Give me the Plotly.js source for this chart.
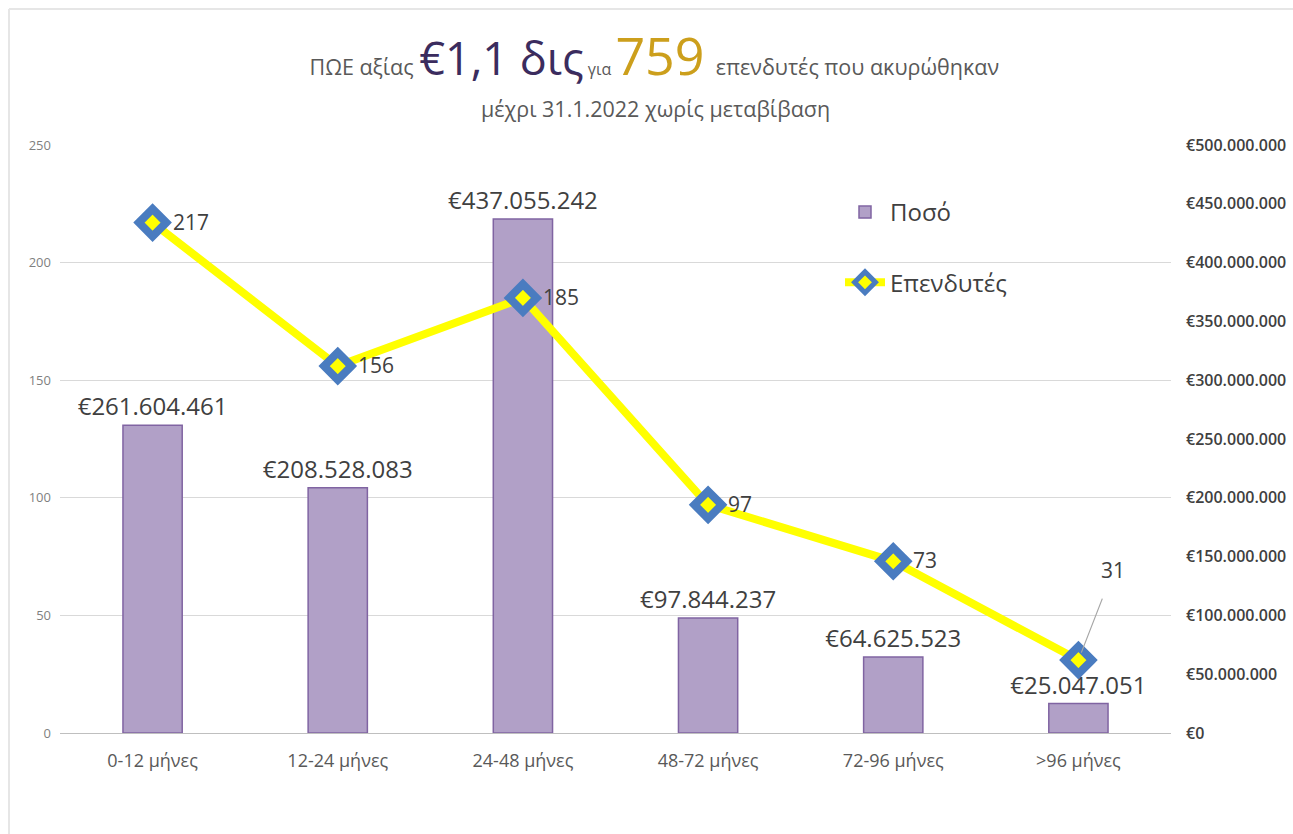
<!DOCTYPE html>
<html>
<head>
<meta charset="utf-8">
<script src="https://cdn.plot.ly/plotly-3.0.1.min.js"></script>
<style>
  html, body { margin: 0; padding: 0; background: #ffffff; }
  #chart { width: 1293px; height: 834px; }
</style>
</head>
<body>
<div id="chart"></div>
<script>
const categories = ["0-12 μήνες", "12-24 μήνες", "24-48 μήνες", "48-72 μήνες", "72-96 μήνες", ">96 μήνες"];
const amounts = [261604461, 208528083, 437055242, 97844237, 64625523, 25047051];
const investors = [217, 156, 185, 97, 73, 31];
const leftTicks = [0, 50, 100, 150, 200, 250];
const rightTicks = [0, 50000000, 100000000, 150000000, 200000000, 250000000, 300000000, 350000000, 400000000, 450000000, 500000000];
const seriesNames = ["Ποσό", "Επενδυτές"];

const FONT = "Open Sans, Noto Sans, sans-serif";

function euro(v) {
  return "€" + String(Math.round(v)).replace(/\B(?=(\d{3})+(?!\d))/g, ".");
}

const lastIdx = investors.length - 1;

// Bars on the primary (right-side) axis so that the line (overlay axis) sits on top
const barTrace = {
  type: "bar",
  name: seriesNames[0],
  x: categories,
  y: amounts,
  yaxis: "y",
  width: 0.32,
  marker: { color: "#b1a0c7", line: { color: "#8064a2", width: 1.5 } },
  text: amounts.map(euro),
  texttemplate: "%{text}",
  textposition: "outside",
  constraintext: "none",
  cliponaxis: false,
  textfont: { family: FONT, size: 24, color: "#404040" },
  legendgroup: "a",
  legendrank: 1,
  hoverinfo: "skip"
};

const lineTrace = {
  type: "scatter",
  mode: "lines+markers",
  name: seriesNames[1],
  x: categories,
  y: investors,
  yaxis: "y2",
  line: { color: "#ffff00", width: 8 },
  marker: { symbol: "diamond", size: 21, color: "#ffff00", line: { color: "#4a7cc0", width: 8 } },
  cliponaxis: false,
  legendgroup: "b",
  legendrank: 2,
  hoverinfo: "skip"
};

const pointLabels = investors.map((v, i) => {
  if (i === lastIdx) {
    return {
      text: String(v),
      x: categories[i], y: v,
      xref: "x", yref: "y2",
      showarrow: true,
      arrowhead: 0,
      arrowwidth: 1.2,
      arrowcolor: "#a6a6a6",
      ax: 35, ay: -90,
      standoff: 8,
      startstandoff: 14,
      font: { family: FONT, size: 21, color: "#404040" }
    };
  }
  return {
    text: String(v),
    x: categories[i], y: v,
    xref: "x", yref: "y2",
    xanchor: "left", yanchor: "middle",
    xshift: 18, yshift: 1,
    showarrow: false,
    font: { family: FONT, size: 21, color: "#404040" }
  };
});

const layout = {
  width: 1293,
  height: 834,
  paper_bgcolor: "#ffffff",
  plot_bgcolor: "#ffffff",
  separators: ",.",
  margin: { l: 60, r: 122, t: 145, b: 101 },
  font: { family: FONT, color: "#595959" },
  title: {
    text: 'ΠΩΕ αξίας <span style="font-size:45px;color:#3b2c5e">€1,1 δις</span><span style="font-size:16px"> για </span><span style="font-size:52px;color:#cc9f1c">759</span>  επενδυτές που ακυρώθηκαν',
    font: { family: FONT, size: 21.5, color: "#595959" },
    x: 0.506,
    xanchor: "center",
    xref: "container",
    y: 1 - 67 / 834,
    yanchor: "middle",
    yref: "container"
  },
  annotations: [
    {
      text: "μέχρι 31.1.2022 χωρίς μεταβίβαση",
      xref: "paper", yref: "paper",
      x: (655 - 60) / 1111, y: (733 - 108) / 588,
      xanchor: "center", yanchor: "middle",
      showarrow: false,
      font: { family: FONT, size: 21.5, color: "#595959" }
    }
  ].concat(pointLabels),
  xaxis: {
    type: "category",
    showgrid: false,
    showline: true,
    linecolor: "#bfbfbf",
    linewidth: 1,
    ticks: "",
    ticklabelstandoff: 11,
    tickfont: { family: FONT, size: 18, color: "#595959" },
    zeroline: false
  },
  yaxis: {
    range: [0, 500000000],
    side: "right",
    tickvals: rightTicks,
    ticktext: rightTicks.map(euro),
    showgrid: false,
    zeroline: false,
    showline: false,
    ticks: "",
    ticklabelstandoff: 14,
    tickfont: { family: FONT, size: 16, color: "#404040", weight: 600 }
  },
  yaxis2: {
    range: [0, 250],
    overlaying: "y",
    side: "left",
    tickvals: leftTicks,
    showgrid: true,
    gridcolor: "#d9d9d9",
    gridwidth: 1,
    zeroline: false,
    showline: false,
    ticks: "",
    ticklabelstandoff: 8,
    tickfont: { family: FONT, size: 13, color: "#7f7f7f" }
  },
  legend: {
    x: (840 - 60) / 1111,
    y: (733 - 190) / 588,
    xanchor: "left",
    yanchor: "top",
    bgcolor: "rgba(0,0,0,0)",
    font: { family: FONT, size: 24, color: "#404040" },
    traceorder: "grouped",
    tracegroupgap: 36,
    itemwidth: 40
  },
  showlegend: true,
  shapes: [
    { type: "line", xref: "paper", yref: "paper",
      x0: (9 - 60) / 1111, x1: (1293 - 60) / 1111, y0: (733 - 9) / 588, y1: (733 - 9) / 588,
      line: { color: "#e6e6e6", width: 2 } },
    { type: "line", xref: "paper", yref: "paper",
      x0: (9 - 60) / 1111, x1: (9 - 60) / 1111, y0: (733 - 834) / 588, y1: (733 - 9) / 588,
      line: { color: "#e6e6e6", width: 2 } }
  ]
};

Plotly.newPlot("chart", [barTrace, lineTrace], layout, { displayModeBar: false, responsive: false });
</script>
</body>
</html>
